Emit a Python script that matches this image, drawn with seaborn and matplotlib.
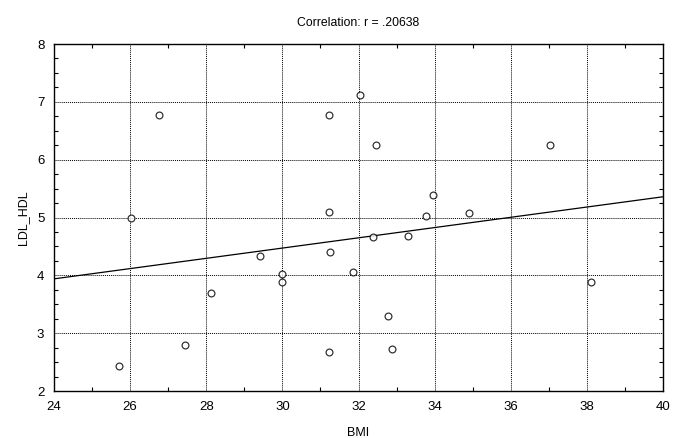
import matplotlib
matplotlib.use("Agg")
import matplotlib.pyplot as plt
import seaborn as sns
import pandas as pd
import numpy as np
from matplotlib.ticker import MultipleLocator

bmi = [25.70, 26.03, 26.77, 27.44, 28.13, 29.40, 29.98, 29.98, 31.23, 31.23,
       31.26, 31.23, 31.86, 32.03, 32.39, 32.46, 32.77, 32.89, 33.31, 33.77,
       33.97, 34.89, 37.04, 38.10]
ldl_hdl = [2.44, 5.00, 6.78, 2.80, 3.69, 4.34, 4.03, 3.89, 6.78, 5.10,
           4.40, 2.67, 4.06, 7.11, 4.66, 6.25, 3.30, 2.72, 4.68, 5.03,
           5.39, 5.07, 6.25, 3.88]
title_text = "Correlation: r = .20638"

df = pd.DataFrame({"BMI": bmi, "LDL_HDL": ldl_hdl})

sns.set_theme(style="white")
plt.rcParams["font.family"] = ["Liberation Sans", "DejaVu Sans"]

fig = plt.figure(figsize=(6.83, 4.38), dpi=100)
ax = fig.add_axes([0.0791, 0.1073, 0.8916, 0.7922])
ax.set_xlim(24, 40)
ax.set_ylim(2, 8)

sns.regplot(data=df, x="BMI", y="LDL_HDL", ax=ax, ci=None, truncate=False,
            scatter_kws=dict(s=24, facecolors="white", edgecolors="black",
                             linewidths=0.9, zorder=3),
            line_kws=dict(color="black", linewidth=0.9, zorder=2))
ax.set_xlim(24, 40)
ax.set_ylim(2, 8)

ax.xaxis.set_major_locator(MultipleLocator(2))
ax.yaxis.set_major_locator(MultipleLocator(1))
ax.xaxis.set_minor_locator(MultipleLocator(1))
ax.yaxis.set_minor_locator(MultipleLocator(0.25))
ax.grid(True, which="major", color="black", linestyle=(0, (1, 1)), linewidth=0.7)
ax.tick_params(which="major", length=0, labelsize=9.5, colors="black", pad=7)
ax.tick_params(which="minor", direction="in", length=3, width=0.8, color="black",
               top=True, right=True, bottom=True, left=True)
for s in ax.spines.values():
    s.set_color("black")
    s.set_linewidth(1.0)

ax.set_xlabel("BMI", fontsize=9, color="black", labelpad=10)
ax.set_ylabel("LDL_HDL", fontsize=9, color="black", labelpad=6)
ax.set_title(title_text, fontsize=8.8, color="black", pad=13)

fig.savefig("out.png", dpi=100, facecolor="white")
